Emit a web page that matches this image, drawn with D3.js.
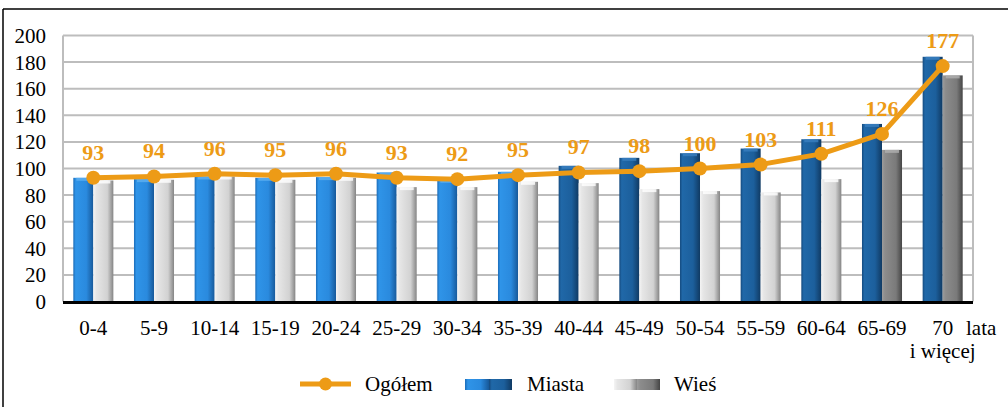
<!DOCTYPE html>
<html><head><meta charset="utf-8">
<script src="https://cdn.jsdelivr.net/npm/d3@7"></script>
</head><body style="margin:0">
<svg id="c" width="1008" height="407" style="display:block"></svg>
<script>
const categories = ["0-4","5-9","10-14","15-19","20-24","25-29","30-34","35-39","40-44","45-49","50-54","55-59","60-64","65-69","70 i więcej"];
const miasta = [93,92,94,93,93.5,97,91.5,97.5,102,108,111.5,115,122,133.5,184];
const wies   = [91,91.5,94,91.5,93,86,86,90,89,84.5,83,82,92,114,170];
const ogolem = [93,94,96,95,96,93,92,95,97,98,100,103,111,126,177];
const yTicks = [0,20,40,60,80,100,120,140,160,180,200];
const seriesNames = ["Ogółem","Miasta","Wieś"];

(function(){
const svg = d3.select("#c");
const W = 1008, H = 407;
const pL = 63, pR = 973, pT = 35.5, pB = 301.5;
const orange = "#ED9B16";
const st = (sel, size, weight) => sel.attr("style", `font-family:"Liberation Serif";font-size:${size}px;font-weight:${weight||"normal"}`);

svg.append("rect").attr("width",W).attr("height",H).attr("fill","#fff");

const defs = svg.append("defs");
function grad(id, stops){
  const g = defs.append("linearGradient").attr("id",id).attr("x1","0").attr("x2","1").attr("y1","0").attr("y2","0");
  stops.forEach(s=>g.append("stop").attr("offset",s[0]).attr("stop-color",s[1]));
}
grad("gBlueL",[["0%","#1b6cb8"],["12%","#2f94e8"],["65%","#2a8ade"],["100%","#17599a"]]);
grad("gBlueD",[["0%","#154a7e"],["12%","#2068a8"],["65%","#1c5f9c"],["100%","#103a63"]]);
grad("gGrayL",[["0%","#f4f4f4"],["15%","#e6e6e6"],["70%","#d2d2d2"],["100%","#858585"]]);
grad("gGrayD",[["0%","#9c9c9c"],["15%","#8c8c8c"],["70%","#7a7a7a"],["100%","#454545"]]);

svg.append("line").attr("x1",3).attr("x2",W).attr("y1",9).attr("y2",9).attr("stroke","#000").attr("stroke-width",1.5);
svg.append("line").attr("x1",3).attr("x2",3).attr("y1",9).attr("y2",H).attr("stroke","#000").attr("stroke-width",1.5);

const x = d3.scaleBand().domain(categories).range([pL,pR]).paddingInner(0.34).paddingOuter(0.17);
const xs = d3.scaleBand().domain(["Miasta","Wieś"]).range([0,x.bandwidth()]);
const y = d3.scaleLinear().domain([0,200]).range([pB,pT]);

svg.append("g").selectAll("line").data(yTicks.filter(d=>d>0)).join("line")
  .attr("x1",pL).attr("x2",pR).attr("y1",d=>y(d)).attr("y2",d=>y(d))
  .attr("stroke","#bdbdbd").attr("stroke-width",2);
svg.append("line").attr("x1",pL).attr("x2",pL).attr("y1",pT).attr("y2",pB).attr("stroke","#bdbdbd").attr("stroke-width",2);
svg.append("line").attr("x1",pR).attr("x2",pR).attr("y1",pT).attr("y2",pB).attr("stroke","#bdbdbd").attr("stroke-width",2);

const yAxis = d3.axisLeft(y).tickValues(yTicks).tickSize(0).tickPadding(0);
const ya = svg.append("g").attr("transform","translate(46,0)").call(yAxis);
ya.select(".domain").remove();
ya.attr("font-family", null).attr("font-size", null);
st(ya.selectAll("text"), 21).attr("fill","#000").attr("dy","0.33em");

const bars = svg.append("g");
categories.forEach((c,i)=>{
  const m = miasta[i], w = wies[i];
  bars.append("rect").attr("x",x(c)+xs("Miasta")).attr("width",xs.bandwidth())
    .attr("y",y(m)).attr("height",y(0)-y(m)).attr("fill",m>100?"url(#gBlueD)":"url(#gBlueL)");
  bars.append("rect").attr("x",x(c)+xs("Miasta")+3).attr("width",xs.bandwidth()-6)
    .attr("y",y(m)).attr("height",3).attr("fill",m>100?"#3a7fc0":"#5fb0f0").attr("opacity",0.8);
  bars.append("rect").attr("x",x(c)+xs("Wieś")).attr("width",xs.bandwidth())
    .attr("y",y(w)).attr("height",y(0)-y(w)).attr("fill",w>100?"url(#gGrayD)":"url(#gGrayL)");
  bars.append("rect").attr("x",x(c)+xs("Wieś")+3).attr("width",xs.bandwidth()-6)
    .attr("y",y(w)).attr("height",3).attr("fill",w>100?"#b0b0b0":"#ffffff").attr("opacity",0.8);
});

svg.append("line").attr("x1",pL).attr("x2",pR).attr("y1",pB+1).attr("y2",pB+1).attr("stroke","#000").attr("stroke-width",3);

const xl = svg.append("g");
categories.forEach(c=>{
  const cx = x(c)+x.bandwidth()/2;
  const parts = c==="70 i więcej" ? ["70","i więcej"] : [c];
  parts.forEach((p,j)=>{
    st(xl.append("text").attr("x",cx).attr("y",335+j*23).attr("text-anchor","middle"), 21).text(p);
  });
});
st(xl.append("text").attr("x",966).attr("y",335), 21).text("lata");

const cxp = c=>x(c)+x.bandwidth()/2;
const lineGen = d3.line().x((d,i)=>cxp(categories[i])).y(d=>y(d));
svg.append("path").attr("d",lineGen(ogolem)).attr("fill","none").attr("stroke",orange).attr("stroke-width",5).attr("stroke-linejoin","round");
svg.append("g").selectAll("circle").data(ogolem).join("circle")
  .attr("cx",(d,i)=>cxp(categories[i])).attr("cy",d=>y(d)).attr("r",7).attr("fill",orange);
st(svg.append("g").selectAll("text").data(ogolem).join("text")
  .attr("x",(d,i)=>cxp(categories[i])).attr("y",d=>y(d)-18).attr("text-anchor","middle"), 22, "bold")
  .attr("fill",orange).text(d=>d);

const lg = svg.append("g");
lg.append("line").attr("x1",300).attr("x2",351).attr("y1",384).attr("y2",384).attr("stroke",orange).attr("stroke-width",5);
lg.append("circle").attr("cx",325.5).attr("cy",384).attr("r",6.5).attr("fill",orange);
st(lg.append("text").attr("x",365).attr("y",391), 21).text(seriesNames[0]);
lg.append("rect").attr("x",465).attr("y",379).attr("width",24).attr("height",11).attr("fill","url(#gBlueL)");
lg.append("rect").attr("x",489).attr("y",379).attr("width",23).attr("height",11).attr("fill","url(#gBlueD)");
st(lg.append("text").attr("x",527).attr("y",391), 21).text(seriesNames[1]);
lg.append("rect").attr("x",614).attr("y",379).attr("width",23).attr("height",11).attr("fill","url(#gGrayL)");
lg.append("rect").attr("x",637).attr("y",379).attr("width",23).attr("height",11).attr("fill","url(#gGrayD)");
st(lg.append("text").attr("x",674).attr("y",391), 21).text(seriesNames[2]);
})();
</script>
</body></html>
